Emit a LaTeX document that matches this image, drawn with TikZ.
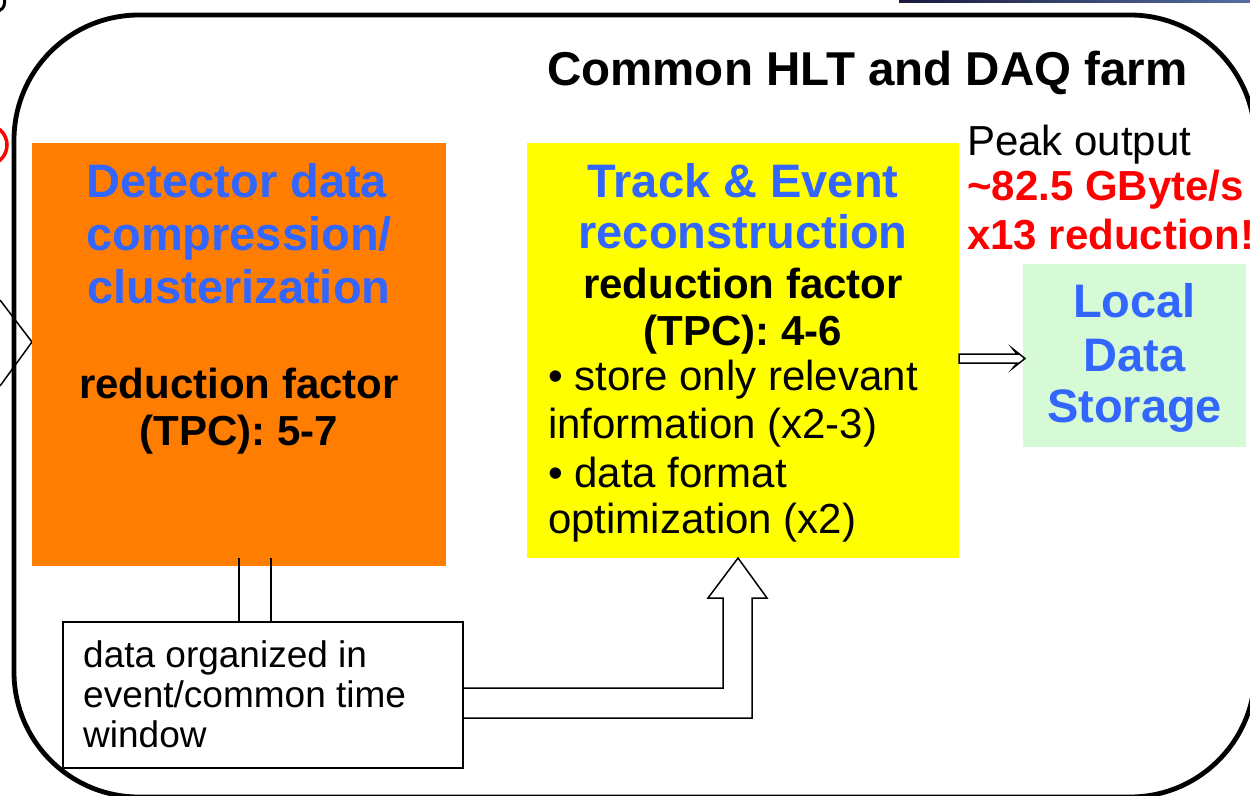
\documentclass[tikz,border=0pt]{standalone}
\usepackage{fontspec}
\setmainfont{Liberation Sans}
\usetikzlibrary{calc}
\definecolor{orng}{RGB}{255,125,0}
\definecolor{hblue}{RGB}{51,102,255}
\definecolor{ylw}{RGB}{255,255,0}
\definecolor{lgreen}{RGB}{213,250,213}
\definecolor{navyA}{RGB}{25,25,60}
\definecolor{navyB}{RGB}{85,110,160}
\tikzset{
 panel/.style={draw=none, inner sep=0pt, outer sep=0pt},
 head/.style={font=\fontsize{47}{50}\selectfont\bfseries, text=hblue, inner sep=0pt, anchor=base},
 sub/.style={font=\fontsize{42}{46}\selectfont\bfseries, inner sep=0pt, anchor=base},
 plain/.style={font=\fontsize{42}{46}\selectfont, inner sep=0pt, anchor=base west},
 redtxt/.style={font=\fontsize{42}{46}\selectfont\bfseries, text=red, inner sep=0pt, anchor=base west},
 small/.style={font=\fontsize{37}{40}\selectfont, inner sep=0pt, anchor=base west},
 thin/.style={line width=1.5pt},
}
\begin{document}
\begin{tikzpicture}[x=1pt,y=-1pt]
\useasboundingbox (0,0) rectangle (1250,795);
\clip (0,0) rectangle (1250,795);
% cut-off fragments at the edges
\fill[left color=navyA, right color=navyB] (899,0) rectangle (1250,2.5);
\draw[line width=3pt] (4.5,-2) -- (4.5,3) arc[start angle=0,end angle=90,radius=8];
\draw[red, line width=3.5pt] (-13,145) circle[radius=20];
% outer farm frame
\node[draw, line width=4.8pt, rounded corners=125pt, minimum width=1241pt, minimum height=782pt, inner sep=0pt] (farm) at (634.5,406) {};
\draw[thin] (0,300) -- (32,342) -- (0,386);
\node[font=\fontsize{47.5}{50}\selectfont\bfseries, inner sep=0pt, anchor=base west] (title) at (547,85) {Common HLT and DAQ farm};
% boxes
\node[panel, fill=orng, minimum width=414pt, minimum height=423pt] (det) at (239,354.5) {};
\node[panel, fill=ylw, minimum width=432pt, minimum height=415pt] (trk) at (743,350.5) {};
\node[panel, fill=lgreen, minimum width=223pt, minimum height=183pt] (lds) at (1134.5,355.5) {};
\node[draw, thin, fill=white, minimum width=400pt, minimum height=146pt, inner sep=0pt] (win) at (263,695) {};
% orange texts
\node[head] (d1) at (237,197) {Detector data};
\node[head] (d2) at (239,250) {compression/};
\node[head] (d3) at (239,303) {clusterization};
\node[sub] (d4) at (239,398) {reduction factor};
\node[sub] (d5) at (239,445) {(TPC): 5-7};
% yellow texts
\node[head] (t1) at (743,197) {Track \& Event};
\node[head] (t2) at (743,248) {reconstruction};
\node[sub] (t3) at (743,298) {reduction factor};
\node[sub] (t4) at (743,345) {(TPC): 4-6};
\node[plain] (t5) at (548,390) {• store only relevant};
\node[plain] (t6) at (548,438) {information (x2-3)};
\node[plain] (t7) at (548,487) {• data format};
\node[plain] (t8) at (548,533) {optimization (x2)};
% green texts
\node[head] (l1) at (1134.5,317) {Local};
\node[head] (l2) at (1134.5,371) {Data};
\node[head] (l3) at (1134.5,422) {Storage};
% peak output
\node[plain] (p1) at (967,155) {Peak output};
\node[redtxt] (p2) at (967,200) {\textasciitilde82.5 GByte/s};
\node[redtxt] (p3) at (967,249) {x13 reduction!};
% data box text
\node[small] (w1) at (83,667) {data organized in};
\node[small] (w2) at (83,707) {event/common time};
\node[small] (w3) at (83,747) {window};
% connectors
\draw[thin] ($(det.south)+(0,-8)$) -- (det.south |- win.north);
\draw[thin] ($(det.south)+(32,-8)$) -- ($(det.south |- win.north)+(32,0)$);
\coordinate (tip) at ($(trk.south)+(-5,0)$);
\draw[thin, line join=miter] ($(win.east)+(0,-7)$) -| ($(tip)+(-15,40)$) -- ++(-15,0) -- (tip) -- ($(tip)+(29,40)$) -- ++(-15,0) |- ($(win.east)+(0,23)$);
\coordinate (a) at ($(trk.east)+(0,8)$);
\coordinate (tip2) at ($(lds.west |- a)+(2,0)$);
\draw[thin, fill=white] ($(a)+(0,-4.5)$) -- ($(tip2)+(-8,-4.5)$) -- ($(tip2)+(-12,-9.5)$) -- (tip2) -- ($(tip2)+(-12,9.5)$) -- ($(tip2)+(-8,4.5)$) -- ($(a)+(0,4.5)$) -- cycle;
\end{tikzpicture}
\end{document}
